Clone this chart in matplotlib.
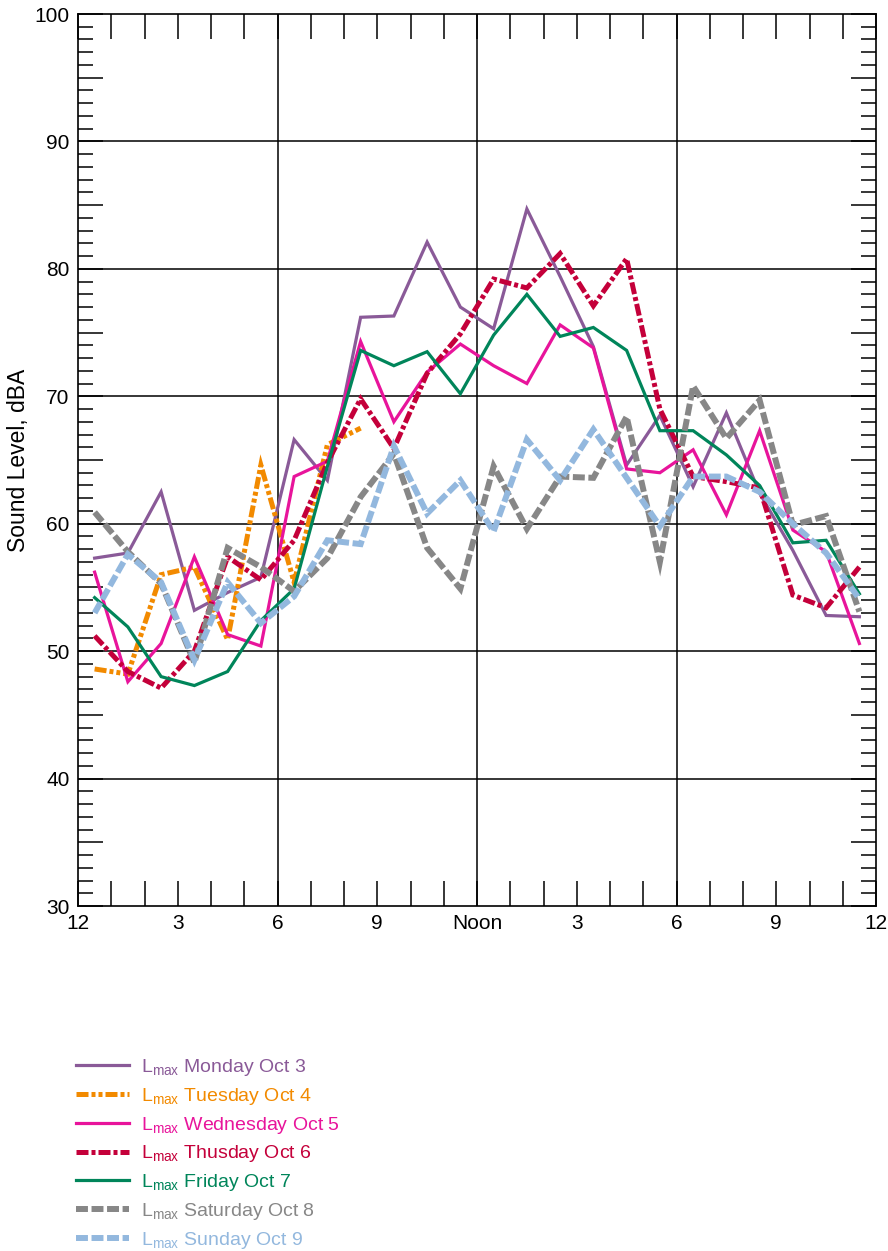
#!/usr/bin/env python3

import matplotlib
matplotlib.use('Agg')
import matplotlib.pyplot as plt
from matplotlib.ticker import MultipleLocator, FuncFormatter

plt.rcParams['font.family'] = ['Liberation Sans', 'DejaVu Sans']
plt.rcParams['mathtext.fontset'] = 'custom'
plt.rcParams['mathtext.rm'] = 'Liberation Sans'
plt.rcParams['mathtext.default'] = 'regular'

# hour of day (half-hour centres), 0 = midnight
hours = [0.5, 1.5, 2.5, 3.5, 4.5, 5.5, 6.5, 7.5, 8.5, 9.5, 10.5, 11.5,
         12.5, 13.5, 14.5, 15.5, 16.5, 17.5, 18.5, 19.5, 20.5, 21.5, 22.5, 23.5]

monday = [57.3, 57.7, 62.5, 53.2, 54.6, 55.8, 66.6, 63.4, 76.2, 76.3, 82.1, 77.0,
          75.3, 84.7, 79.4, 73.9, 64.6, 68.5, 62.9, 68.7, 62.4, 57.9, 52.8, 52.7]
tuesday = [48.6, 48.2, 56.0, 56.6, 50.9, 64.6, 55.4, 66.2, 67.5]
wednesday = [56.2, 47.6, 50.6, 57.4, 51.3, 50.4, 63.7, 64.9, 74.3, 68.0, 71.9, 74.1,
             72.4, 71.0, 75.6, 73.8, 64.3, 64.0, 65.8, 60.7, 67.3, 59.5, 57.8, 50.6]
thursday = [51.2, 48.4, 47.1, 50.0, 57.4, 55.6, 58.7, 64.8, 69.8, 65.9, 71.8, 74.9,
            79.2, 78.5, 81.2, 77.1, 80.8, 69.0, 63.7, 63.3, 62.8, 54.4, 53.4, 56.6]
friday = [54.2, 51.9, 48.0, 47.3, 48.4, 52.4, 54.9, 64.5, 73.6, 72.4, 73.5, 70.2,
          74.8, 78.0, 74.7, 75.4, 73.6, 67.3, 67.3, 65.4, 63.0, 58.5, 58.7, 54.5]
saturday = [60.9, 57.8, 55.3, 49.1, 58.1, 56.6, 54.7, 57.3, 62.1, 65.5, 58.1, 54.9,
            64.5, 59.6, 63.7, 63.6, 68.4, 57.0, 70.8, 66.7, 69.7, 59.9, 60.6, 53.1]
sunday = [53.0, 57.6, 55.4, 49.3, 55.4, 52.2, 54.3, 58.7, 58.4, 66.1, 60.8, 63.4,
          59.4, 66.6, 63.4, 67.4, 63.6, 59.8, 63.7, 63.7, 62.5, 60.0, 57.7, 54.1]

day_names = ['Monday Oct 3', 'Tuesday Oct 4', 'Wednesday Oct 5', 'Thusday Oct 6',
             'Friday Oct 7', 'Saturday Oct 8', 'Sunday Oct 9']
x_tick_labels = ['12', '3', '6', '9', 'Noon', '3', '6', '9', '12']


def main():
    fig = plt.figure(figsize=(8.88, 12.51), dpi=100)
    ax = fig.add_axes([78/888, 1 - 906/1251, 798/888, 892/1251])

    # (series, colour, linewidth, dash pattern in multiples of lw or None)
    styles = [
        (monday, '#8a5a98', 2.3, None),
        (tuesday, '#f28a00', 3.6, (2.4, 0.6, 0.8, 0.6, 0.8, 0.6)),
        (wednesday, '#e8149b', 2.3, None),
        (thursday, '#c4003a', 3.6, (2.4, 0.6, 0.8, 0.6)),
        (friday, '#00855a', 2.3, None),
        (saturday, '#878787', 4.3, (2.0, 0.6)),
        (sunday, '#93b8de', 4.3, (2.0, 0.6)),
    ]
    for (vals, color, lw, dash), name in zip(styles, day_names):
        line, = ax.plot(hours[:len(vals)], vals, color=color, lw=lw,
                        label=r'L$_{\mathregular{max}}$ ' + name,
                        solid_joinstyle='miter', dash_joinstyle='miter',
                        dash_capstyle='butt')
        if dash is not None:
            line.set_dashes(dash)

    for h in [6, 12, 18]:
        ax.axvline(h, color='black', lw=1.1, zorder=0)
    for v in range(40, 100, 10):
        ax.axhline(v, color='black', lw=1.1, zorder=0)

    ax.set_xlim(0, 24)
    ax.set_ylim(30, 100)
    ax.set_xticks(range(0, 25, 3))
    ax.set_xticklabels(x_tick_labels)
    ax.xaxis.set_minor_locator(MultipleLocator(1))
    ax.yaxis.set_major_locator(MultipleLocator(5))
    ax.yaxis.set_minor_locator(MultipleLocator(1))
    ax.yaxis.set_major_formatter(FuncFormatter(lambda v, p: '%d' % v if v % 10 == 0 else ''))

    ax.tick_params(axis='x', which='both', direction='in', top=True, length=18,
                   width=1.1, labelsize=15, pad=6)
    ax.tick_params(axis='y', which='major', direction='in', right=True, length=18,
                   width=1.1, labelsize=15, pad=6)
    ax.tick_params(axis='y', which='minor', direction='in', right=True, length=11,
                   width=1.1)
    for s in ax.spines.values():
        s.set_linewidth(1.2)

    ax.set_ylabel('Sound Level, dBA', fontsize=16.5, labelpad=3)

    fig.legend(loc='upper left', bbox_to_anchor=(76/888, 1 - 1057/1251),
               frameon=False, fontsize=14, handlelength=2.7, handletextpad=0.65,
               labelspacing=0.4, borderpad=0, borderaxespad=0,
               labelcolor='linecolor')

    fig.savefig('out.png', dpi=100)


if __name__ == "__main__":
    main()
